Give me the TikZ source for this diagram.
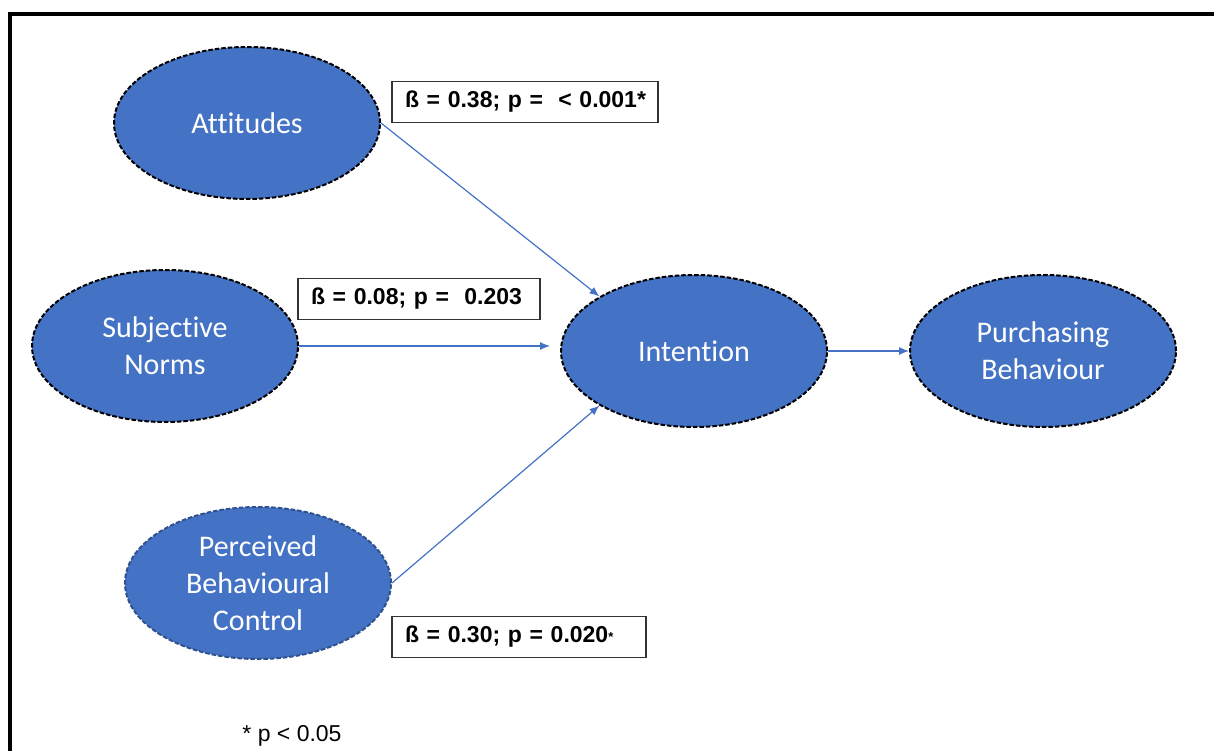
\documentclass[tikz,border=0pt]{standalone}
\usepackage{fontspec}
\setmainfont[Ligatures=NoCommon]{Carlito}
\newfontfamily\labelfont{Liberation Sans}
\usetikzlibrary{arrows.meta, positioning, shapes.geometric}

\definecolor{tpbblue}{HTML}{4472C4}
\definecolor{tpbedge}{HTML}{2F528F}

\tikzset{
  construct/.style={ellipse, fill=tpbblue, draw=black, line width=2pt,
    dash pattern=on 4.5pt off 2pt, minimum width=266pt, minimum height=152pt,
    inner sep=0pt, text=white, align=center,
    font=\fontsize{30}{37}\selectfont},
  coef/.style={draw=black!80, line width=1.2pt, fill=white, inner xsep=13pt,
    inner ysep=0pt, minimum height=41pt, align=left,
    font=\labelfont\bfseries\fontsize{23}{26}\selectfont},
  path/.style={draw=tpbblue, line width=1.2pt, -{Latex[length=10pt,width=8pt]}}
}

\begin{document}
\begin{tikzpicture}[x=1pt,y=-1pt]
\useasboundingbox (0,0) rectangle (1214,751);
% frame of the screenshot
\draw[line width=4pt] (9.5,760) -- (9.5,14.5) -- (1220,14.5);

% constructs
\node[construct] (att) at (247,123) {Attitudes};
\node[construct] (sn)  at (165,346) {Subjective\\Norms};
\node[construct, draw=tpbedge] (pbc) at (258,583) {Perceived\\Behavioural\\Control};
\node[construct] (int) at (694,351) {Intention};
\node[construct] (pb)  at (1043,351) {Purchasing\\Behaviour};

% paths
\draw[path] (att.east) -- (int.150);
\draw[path, shorten >=10pt] (sn.east) -- (sn.east -| int.west);
\draw[path] (pbc.east) -- (int.210);
\draw[path] (int.east) -- (pb.west);

% coefficients
\node[coef, text width=240pt] (c1) at (525,102) {\mbox{ß = 0.38; p =\ \ < 0.001*}};
\node[coef, text width=216pt] (c2) at (419,299) {\mbox{ß = 0.08; p =\ \ 0.203}};
\node[coef, text width=228pt] (c3) at (519,637) {\mbox{ß = 0.30; p = 0.020\raisebox{1pt}{\fontsize{13}{13}\selectfont*}}};

\node[font=\labelfont\fontsize{23}{26}\selectfont] (note) at (292,736) {* p < 0.05};
\end{tikzpicture}
\end{document}
